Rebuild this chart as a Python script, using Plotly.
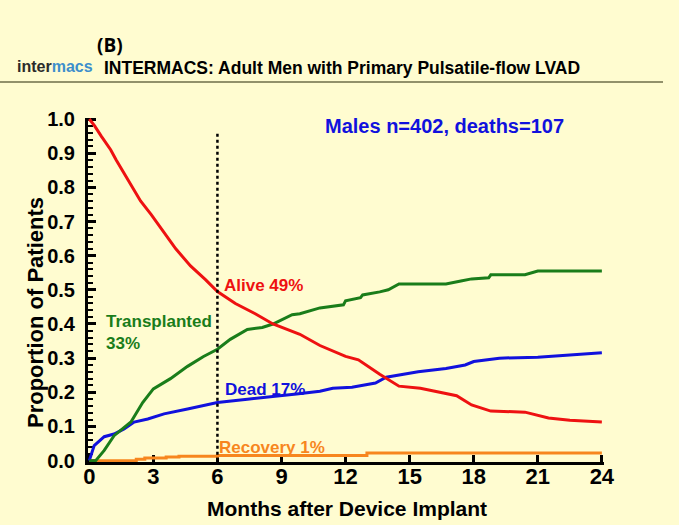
import plotly.graph_objects as go

# ---- data ----
alive_m = [0, 0.25, 0.56, 1.0, 1.26, 1.6, 1.95, 2.4, 2.9, 3.35, 4.05, 4.74, 5.44, 6.0, 6.84, 7.77, 8.6, 9.86, 10.8, 12.0, 12.6, 13.6, 14.5, 15.5, 16.4, 17.2, 17.9, 18.8, 20.4, 21.5, 22.5, 24.0]
alive_v = [1.0, 0.98, 0.95, 0.91, 0.88, 0.845, 0.805, 0.76, 0.72, 0.68, 0.62, 0.57, 0.53, 0.495, 0.46, 0.43, 0.40, 0.37, 0.337, 0.305, 0.295, 0.253, 0.218, 0.212, 0.20, 0.19, 0.163, 0.145, 0.142, 0.125, 0.118, 0.113]

trans_m = [0, 0.3, 0.7, 1.16, 1.95, 2.5, 3.0, 3.8, 4.6, 5.35, 6.0, 6.6, 7.4, 8.1, 8.6, 9.5, 9.86, 10.8, 11.9, 12.0, 12.7, 12.8, 13.6, 14.0, 14.5, 16.7, 17.4, 17.9, 18.7, 18.8, 20.4, 21.0, 24.0]
trans_v = [0.0, 0.0, 0.03, 0.073, 0.113, 0.17, 0.21, 0.24, 0.276, 0.305, 0.326, 0.355, 0.384, 0.39, 0.40, 0.427, 0.43, 0.447, 0.456, 0.468, 0.477, 0.485, 0.494, 0.50, 0.517, 0.517, 0.526, 0.532, 0.535, 0.544, 0.544, 0.555, 0.555]

dead_m = [0, 0.23, 0.7, 1.16, 1.63, 2.1, 2.74, 3.5, 4.6, 6.0, 7.4, 8.9, 9.7, 10.8, 11.4, 12.3, 13.4, 13.9, 14.5, 15.4, 16.7, 17.6, 18.0, 19.2, 21.0, 22.0, 24.0]
dead_v = [0.0, 0.044, 0.07, 0.078, 0.093, 0.113, 0.122, 0.137, 0.151, 0.17, 0.18, 0.189, 0.195, 0.203, 0.212, 0.215, 0.227, 0.244, 0.25, 0.26, 0.27, 0.28, 0.29, 0.30, 0.303, 0.308, 0.316]

recov_m = [0, 2.2, 2.6, 3.6, 4.2, 6.0, 13.0, 24.0]
recov_v = [0.0, 0.004, 0.008, 0.011, 0.013, 0.015, 0.022, 0.022]

x_ticks = [0, 3, 6, 9, 12, 15, 18, 21, 24]
y_ticks = [0.0, 0.1, 0.2, 0.3, 0.4, 0.5, 0.6, 0.7, 0.8, 0.9, 1.0]
y_tick_text = ["0.0", "0.1", "0.2", "0.3", "0.4", "0.5", "0.6", "0.7", "0.8", "0.9", "1.0"]

RED = "#ee1111"
GREEN = "#1a7d1a"
BLUE = "#1111dd"
ORANGE = "#f7861e"
BG = "#fffcd0"
FONT = "Liberation Sans"

fig = go.Figure()
fig.add_trace(go.Scatter(x=recov_m, y=recov_v, mode="lines", line=dict(color=ORANGE, width=3, shape="hv")))
fig.add_trace(go.Scatter(x=dead_m, y=dead_v, mode="lines", line=dict(color=BLUE, width=3)))
fig.add_trace(go.Scatter(x=trans_m, y=trans_v, mode="lines", line=dict(color=GREEN, width=3)))
fig.add_trace(go.Scatter(x=alive_m, y=alive_v, mode="lines", line=dict(color=RED, width=3)))

# vertical dotted line at 6 months
fig.add_shape(type="line", x0=6, x1=6, y0=0, y1=0.96, xref="x", yref="y",
              line=dict(color="black", width=2.5, dash="dot"))


def px_x(p):
    return (p - 88) / 516


def px_y(p):
    return (462 - p) / 344


# header rule
fig.add_shape(type="line", xref="paper", yref="paper",
              x0=px_x(0), x1=px_x(663), y0=px_y(82), y1=px_y(82),
              line=dict(color="#6e6e4a", width=1.5))


def note(text, x, y, size, color, xanchor="center", **kw):
    return dict(text=text, x=px_x(x), y=px_y(y), xref="paper", yref="paper",
                xanchor=xanchor, yanchor="middle", showarrow=False,
                font=dict(family=kw.pop("family", FONT), size=size, color=color), **kw)


ann = [
    note("<b>(B)</b>", 110, 45, 19, "black", family="Open Sans"),
    note("<b><span style='color:#2b2b2b'>inter</span><span style='color:#3d8fcc'>macs</span></b>",
         15, 67, 16, "#2b2b2b", xanchor="left", family="Liberation Sans Narrow, Liberation Sans"),
    note("<b>INTERMACS: Adult Men with Primary Pulsatile-flow LVAD</b>", 102, 68, 17.5, "black", xanchor="left"),
    note("<b>Proportion of Patients</b>", 35, 313, 22, "black", textangle=-90),
    note("<b>Months after Device Implant</b>", 347, 508, 21, "black"),
    note("<b>Males n=402, deaths=107</b>", 444, 126, 20, BLUE),
    note("<b>Alive 49%</b>", 222, 285, 17, RED, xanchor="left"),
    note("<b>Transplanted<br>33%</b>", 104, 332, 17, GREEN, xanchor="left", align="left"),
    note("<b>Dead 17%</b>", 223, 389, 17, BLUE, xanchor="left"),
    note("<b>Recovery 1%</b>", 217, 447, 17, ORANGE, xanchor="left"),
]

fig.update_layout(
    width=679, height=525,
    margin=dict(l=88, r=75, t=118, b=63, pad=0),
    paper_bgcolor=BG, plot_bgcolor=BG,
    showlegend=False,
    annotations=ann,
    font=dict(family=FONT),
)
fig.update_xaxes(range=[-0.06, 24.1], tickvals=x_ticks, ticktext=[str(v) for v in x_ticks],
                 showgrid=False, zeroline=False, showline=True, linecolor="black", linewidth=3,
                 layer="below traces",
                 ticks="inside", ticklen=7, tickwidth=3, tickcolor="black",
                 ticklabelstandoff=-7,
                 tickfont=dict(family=FONT, size=22, color="black", weight="bold"))
fig.update_yaxes(range=[-0.004, 1.003], tickvals=y_ticks, ticktext=y_tick_text,
                 showgrid=False, zeroline=False, showline=True, linecolor="black", linewidth=3,
                 layer="below traces",
                 ticks="inside", ticklen=8, tickwidth=3, tickcolor="black",
                 ticklabelstandoff=6,
                 minor=dict(ticks="inside", dtick=0.02, ticklen=5, tickwidth=2, tickcolor="black", showgrid=False),
                 tickfont=dict(family=FONT, size=20, color="black", weight="bold"))

fig.write_html("out.html",
               config={"displayModeBar": False, "staticPlot": True},
               post_script="document.body.style.margin='0';document.body.style.overflow='hidden';")
